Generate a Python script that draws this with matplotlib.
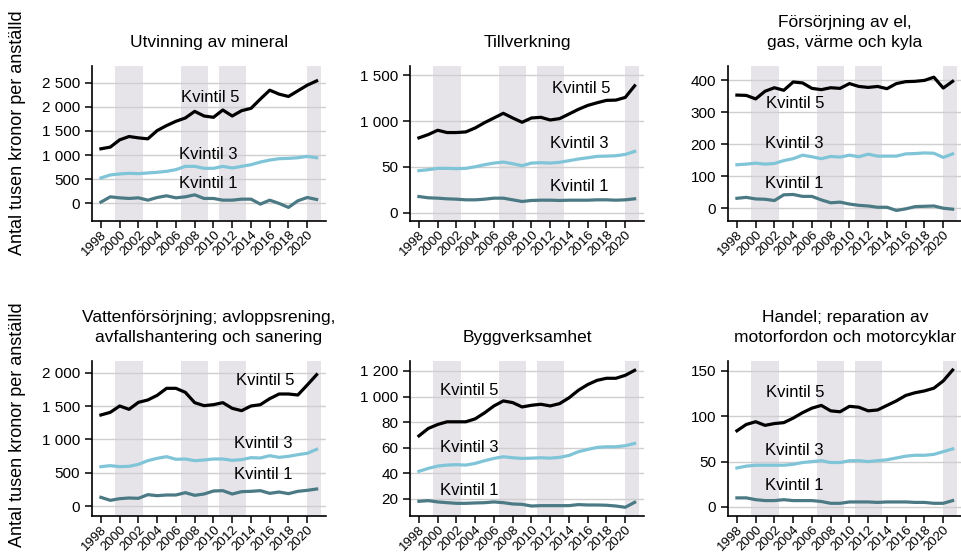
import numpy as np
import matplotlib
matplotlib.use("Agg")
import matplotlib.pyplot as plt

plt.rcParams['font.family'] = ['Liberation Sans', 'DejaVu Sans']

years = list(range(1998, 2022))

# Utvinning av mineral
utv_q5 = [1130, 1165, 1315, 1384, 1356, 1336, 1507, 1610, 1699, 1767, 1904, 1808,
          1781, 1932, 1808, 1918, 1966, 2158, 2342, 2260, 2212, 2329, 2445, 2534]
utv_q3 = [527, 589, 610, 623, 616, 630, 644, 664, 699, 767, 767, 726,
          726, 767, 733, 767, 801, 856, 897, 925, 932, 945, 973, 945]
utv_q1 = [27, 137, 116, 103, 116, 68, 123, 158, 116, 137, 178, 103,
          103, 68, 68, 89, 89, -14, 68, 0, -82, 55, 123, 82]

# Tillverkning
till_q5 = [817, 853, 900, 875, 875, 882, 925, 983, 1034, 1085, 1034, 987,
           1034, 1041, 1012, 1027, 1077, 1128, 1171, 1200, 1226, 1229, 1258, 1385]
till_q3 = [459, 470, 484, 484, 481, 484, 502, 524, 542, 553, 535, 513,
           542, 546, 542, 550, 568, 586, 600, 615, 618, 622, 636, 669]
till_q1 = [177, 163, 159, 152, 148, 141, 141, 148, 159, 159, 141, 123,
           134, 137, 137, 134, 137, 137, 137, 141, 141, 137, 141, 152]

# Försörjning av el, gas, värme och kyla
fors_q5 = [354, 353, 342, 366, 377, 369, 395, 392, 375, 371, 377, 375,
           390, 381, 378, 381, 374, 390, 396, 397, 400, 410, 376, 397]
fors_q3 = [136, 138, 141, 138, 140, 149, 155, 166, 161, 155, 162, 160,
           166, 161, 169, 163, 163, 163, 170, 171, 173, 172, 159, 170]
fors_q1 = [31, 34, 29, 28, 24, 42, 43, 37, 37, 26, 17, 19,
           13, 9, 7, 3, 3, -7, -2, 5, 6, 7, 0, -3]

# Vattenförsörjning
vatt_q5 = [1365, 1405, 1500, 1450, 1555, 1590, 1660, 1765, 1765, 1705, 1550, 1505,
           1520, 1550, 1465, 1430, 1500, 1520, 1610, 1680, 1680, 1665, 1815, 1970]
vatt_q3 = [590, 605, 590, 595, 625, 680, 715, 740, 700, 705, 680, 690,
           705, 705, 685, 695, 725, 720, 755, 730, 745, 770, 790, 850]
vatt_q1 = [130, 85, 110, 120, 115, 170, 155, 165, 165, 200, 160, 180,
           225, 230, 180, 215, 220, 230, 190, 210, 185, 220, 235, 255]

# Byggverksamhet
bygg_q5 = [693, 751, 782, 803, 803, 803, 826, 873, 927, 966, 953, 919,
           932, 940, 927, 945, 990, 1049, 1094, 1127, 1143, 1143, 1166, 1205]
bygg_q3 = [416, 439, 457, 465, 468, 465, 478, 499, 517, 530, 522, 517,
           519, 522, 519, 525, 540, 569, 587, 603, 608, 608, 616, 634]
bygg_q1 = [182, 187, 177, 171, 166, 166, 169, 171, 177, 171, 161, 158,
           145, 148, 148, 148, 148, 156, 153, 153, 151, 145, 135, 174]

# Handel
hand_q5 = [84, 91, 94, 90, 92, 93, 98, 104, 109, 112, 106, 105,
           111, 110, 106, 107, 112, 117, 123, 126, 128, 131, 139, 151]
hand_q3 = [43, 45, 46, 46, 46, 46, 47, 49, 50, 51, 49, 49,
           51, 51, 50, 51, 52, 54, 56, 57, 57, 58, 61, 64]
hand_q1 = [10, 10, 8, 7, 7, 8, 7, 7, 7, 6, 4, 4,
           5.5, 5.5, 5.5, 5, 5.5, 5.5, 5.5, 5, 5, 4, 4, 7]

titles = ["Utvinning av mineral", "Tillverkning",
          "Försörjning av el,\ngas, värme och kyla",
          "Vattenförsörjning; avloppsrening,\navfallshantering och sanering",
          "Byggverksamhet",
          "Handel; reparation av\nmotorfordon och motorcyklar"]
series = [(utv_q5, utv_q3, utv_q1), (till_q5, till_q3, till_q1),
          (fors_q5, fors_q3, fors_q1), (vatt_q5, vatt_q3, vatt_q1),
          (bygg_q5, bygg_q3, bygg_q1), (hand_q5, hand_q3, hand_q1)]
yticks = [[0, 500, 1000, 1500, 2000, 2500], [0, 500, 1000, 1500],
          [0, 100, 200, 300, 400], [0, 500, 1000, 1500, 2000],
          [200, 400, 600, 800, 1000, 1200], [0, 50, 100, 150]]
yticklabels = [["0", "500", "1 000", "1 500", "2 000", "2 500"],
               ["0", "50", "1 000", "1 500"],
               ["0", "100", "200", "300", "400"],
               ["0", "500", "1 000", "1 500", "2 000"],
               ["20", "40", "60", "80", "1 000", "1 200"],
               ["0", "50", "100", "150"]]
ylims = [(-363, 2842), (-90, 1601), (-40, 445), (-150, 2175), (67, 1278), (-10, 161)]
# label anchor positions (year, value) for Kvintil 5, 3, 1
label_pos = [[(2006.5, 2190), (2006.35, 1007), (2006.35, 411)],
             [(2012.2, 1359), (2012.0, 759), (2012.0, 282)],
             [(2001.1, 327), (2001.0, 204), (2001.0, 77)],
             [(2012.4, 1880), (2012.2, 940), (2012.2, 475)],
             [(2000.3, 1049), (2000.2, 603), (2000.2, 270)],
             [(2001.1, 126), (2001.0, 62.5), (2001.0, 23.5)]]
quint_names = ["Kvintil 5", "Kvintil 3", "Kvintil 1"]
colors = ["#000000", "#80c4d8", "#4b7a85"]
bands = [(1999.55, 2002.45), (2006.55, 2009.45), (2010.55, 2013.45), (2019.95, 2021.5)]

W, H = 962, 555
fig = plt.figure(figsize=(W / 100, H / 100), dpi=100)
lefts = [92, 410, 728]
tops = [66, 361]
aw, ah = 234, 155

for i in range(6):
    r, c = divmod(i, 3)
    ax = fig.add_axes([lefts[c] / W, 1 - (tops[r] + ah) / H, aw / W, ah / H])
    for b0, b1 in bands:
        ax.axvspan(b0, b1, color="#e6e4e9", lw=0, zorder=0)
    for yt in yticks[i]:
        ax.axhline(yt, color="#cfcfcf", lw=1.0, zorder=0.5)
    for vals, col in zip(series[i], colors):
        ax.plot(years, vals, color=col, lw=2.3, zorder=3)
    for (lx, ly), name in zip(label_pos[i], quint_names):
        ax.text(lx, ly, name, fontsize=12, ha="left", va="center", zorder=4)
    ax.set_xlim(1997.05, 2022.0)
    ax.set_ylim(*ylims[i])
    ax.set_yticks(yticks[i])
    ax.set_yticklabels(yticklabels[i], fontsize=11)
    ax.set_xticks(range(1998, 2021, 2))
    ax.set_xticklabels([str(y) for y in range(1998, 2021, 2)], fontsize=9.5,
                       rotation=45, ha="right", rotation_mode="anchor")
    ax.tick_params(length=5, width=1.1, direction="out")
    ax.tick_params(axis="x", pad=0.8)
    for s in ["top", "right"]:
        ax.spines[s].set_visible(False)
    for s in ["left", "bottom"]:
        ax.spines[s].set_linewidth(1.2)
    ax.set_title(titles[i], fontsize=12.5, pad=14, linespacing=1.35)

fig.text(18 / W, 1 - 133 / H, "Antal tusen kronor per anställd", rotation=90,
         fontsize=13, ha="center", va="center")
fig.text(18 / W, 1 - 425 / H, "Antal tusen kronor per anställd", rotation=90,
         fontsize=13, ha="center", va="center")

fig.savefig("out.png", dpi=100)
